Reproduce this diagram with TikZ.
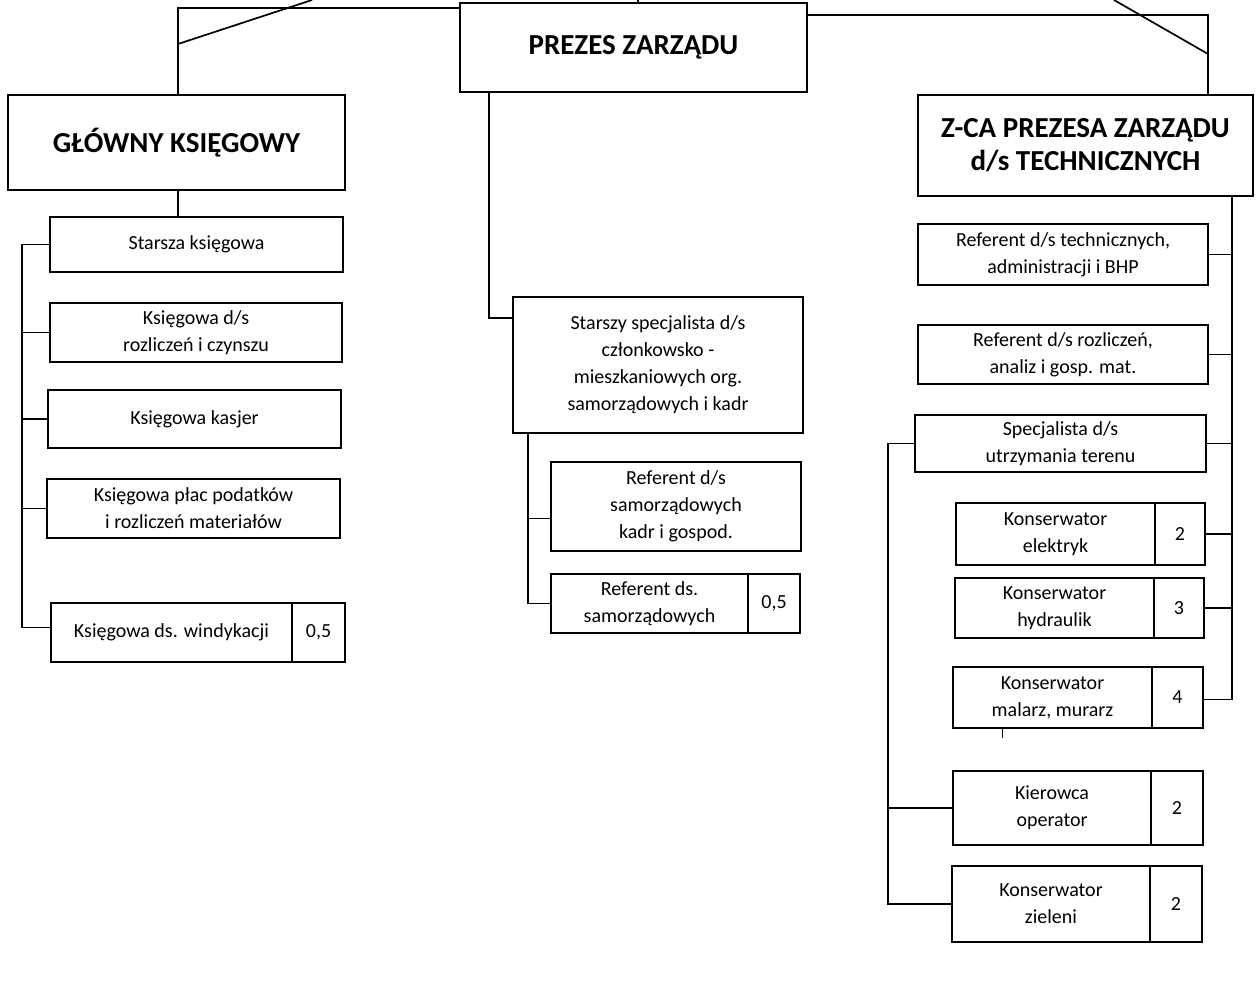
\documentclass[tikz,border=0pt]{standalone}
\usepackage{fontspec}
\setmainfont{Carlito}
\usetikzlibrary{positioning}
\tikzset{
  org-head/.style={draw, line width=1.8pt, font=\bfseries\fontsize{29}{33}\selectfont, align=center, inner sep=0pt, outer sep=0pt},
  org-box/.style={draw, line width=1.7pt, font=\fontsize{20}{27}\selectfont, align=center, inner sep=0pt, outer sep=0pt},
  org-num/.style={org-box},
  org-link/.style={line width=1.7pt}
}

\begin{document}
\begin{tikzpicture}[x=1pt, y=-1pt]
    \useasboundingbox (0,0) rectangle (1257,995);
    % Heads
    \node[org-head, minimum width=347pt, minimum height=89pt] (prezes) at (633.5,47.5) {PREZES ZARZĄDU};
    \node[org-head, minimum width=337pt, minimum height=95pt] (gk) at (176.5,142.5) {GŁÓWNY KSIĘGOWY};
    \node[org-head, minimum width=335pt, minimum height=101pt] (zca) at (1085.5,145.5) {Z-CA PREZESA ZARZĄDU\\d/s TECHNICZNYCH};

    % Left column
    \node[org-box, minimum width=293pt, minimum height=55pt] (gk-1) at (196.5,244.5) {Starsza księgowa};
    \node[org-box, minimum width=292pt, minimum height=59pt] (gk-2) at (196,332.5) {Księgowa d/s\\rozliczeń i czynszu};
    \node[org-box, minimum width=293pt, minimum height=58pt] (gk-3) at (194.5,419) {Księgowa kasjer};
    \node[org-box, minimum width=293pt, minimum height=59pt] (gk-4) at (193.5,508.5) {Księgowa płac podatków\\i rozliczeń materiałów};
    \node[org-box, minimum width=241pt, minimum height=59pt] (gk-5) at (171.5,632.5) {Księgowa ds. windykacji};
    \node[org-num, minimum width=53pt, minimum height=59pt, right=0pt of gk-5] (gk-5n) {0,5};

    % Middle column
    \node[org-box, minimum width=290pt, minimum height=136pt] (sp) at (658,365) {Starszy specjalista d/s\\członkowsko -\\mieszkaniowych org.\\samorządowych i kadr};
    \node[org-box, minimum width=250pt, minimum height=89pt] (r-1) at (676,506.5) {Referent d/s\\samorządowych\\kadr i gospod.};
    \node[org-box, minimum width=197pt, minimum height=59pt] (r-2) at (649.5,603.5) {Referent ds.\\samorządowych};
    \node[org-num, minimum width=52pt, minimum height=59pt, right=0pt of r-2] (r-2n) {0,5};

    % Right column
    \node[org-box, minimum width=290pt, minimum height=61pt] (t-1) at (1063,254.5) {Referent d/s technicznych,\\administracji i BHP};
    \node[org-box, minimum width=290pt, minimum height=59pt] (t-2) at (1063,354.5) {Referent d/s rozliczeń,\\analiz i gosp. mat.};
    \node[org-box, minimum width=291pt, minimum height=57pt] (t-3) at (1060.5,443.5) {Specjalista d/s\\utrzymania terenu};
    \node[org-box, minimum width=199pt, minimum height=62pt] (k-1) at (1055.5,534) {Konserwator\\elektryk};
    \node[org-num, minimum width=50pt, minimum height=62pt, right=0pt of k-1] (k-1n) {2};
    \node[org-box, minimum width=199pt, minimum height=60pt] (k-2) at (1054.5,608) {Konserwator\\hydraulik};
    \node[org-num, minimum width=50pt, minimum height=60pt, right=0pt of k-2] (k-2n) {3};
    \node[org-box, minimum width=199pt, minimum height=61pt] (k-3) at (1052.5,697.5) {Konserwator\\malarz, murarz};
    \node[org-num, minimum width=51pt, minimum height=61pt, right=0pt of k-3] (k-3n) {4};
    \node[org-box, minimum width=198pt, minimum height=74pt] (k-4) at (1052,808) {Kierowca\\operator};
    \node[org-num, minimum width=52pt, minimum height=74pt, right=0pt of k-4] (k-4n) {2};
    \node[org-box, minimum width=198pt, minimum height=76pt] (k-5) at (1051,904) {Konserwator\\zieleni};
    \node[org-num, minimum width=52pt, minimum height=76pt, right=0pt of k-5] (k-5n) {2};

    % Top links
    \coordinate (top-l) at (178,8);
    \coordinate (top-r) at (1208,15);
    \coordinate (top-m) at (638,0);
    \coordinate (cut-l) at (312,0);
    \coordinate (cut-r) at (1114,0);
    \draw[org-link] (top-m) -- (top-m |- prezes.north);
    \draw[org-link] (prezes.west |- top-l) -- (top-l) -- (top-l |- gk.north);
    \draw[org-link] (prezes.east |- top-r) -- (top-r) -- (top-r |- zca.north);
    \draw[org-link] (top-l |- 0,44) -- (cut-l);
    \draw[org-link] (cut-r) -- (top-r |- 0,54);

    % Left links
    \draw[org-link] (gk.south -| top-l) -- (top-l |- gk-1.north);
    \draw[org-link] (gk-1.west) -- ++(-28,0) coordinate (bus-l) |- ([yshift=5pt]gk-5.west);
    \foreach \n in {2,3,4}
        \draw[org-link] (gk-\n.west) -- (gk-\n.west -| bus-l);

    % Middle links
    \draw[org-link] ([yshift=-21pt]sp.north west) -- ++(-24,0) coordinate (bus-m) -- (bus-m |- prezes.south);
    \draw[org-link] ([yshift=-12pt]r-1.west) -- ++(-23,0) coordinate (bus-s) |- (r-2.west);
    \draw[org-link] (bus-s) -- (bus-s |- sp.south);

    % Right links
    \draw[org-link] ([yshift=-2pt]k-3n.east) -- ++(29,0) coordinate (bus-r) -- (bus-r |- zca.south);
    \foreach \n in {t-1,t-2,t-3,k-1n,k-2n}
        \draw[org-link] (\n.east) -- (\n.east -| bus-r);
    \draw[org-link] (t-3.west) -- ++(-27,0) coordinate (bus-t) |- (k-5.west);
    \draw[org-link] (k-4.west) -- (k-4.west -| bus-t);
    \draw[org-link] ([xshift=-50pt]k-3.south) -- ++(0,10);
\end{tikzpicture}
\end{document}
